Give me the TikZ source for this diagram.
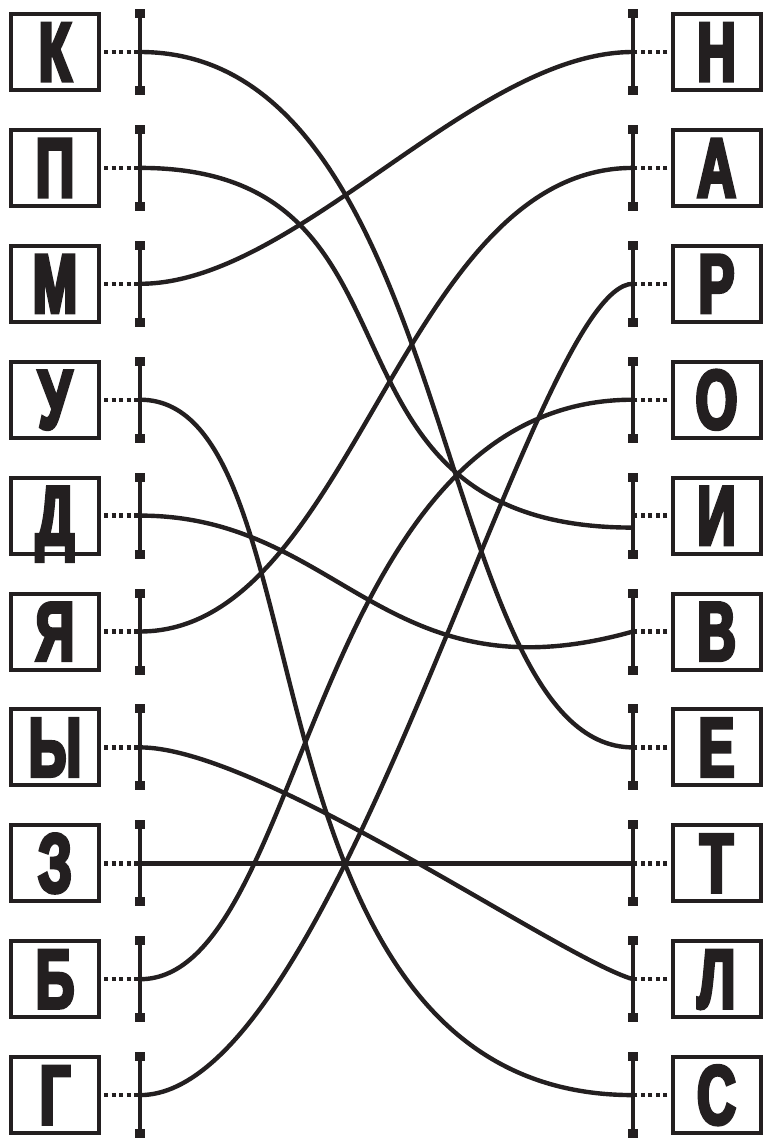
\documentclass[tikz,border=0pt]{standalone}
\usepackage{fontspec}
\newfontfamily\letterfont[FakeStretch=0.64,FakeBold=4]{Liberation Sans}
\usetikzlibrary{arrows.meta,calc}
\definecolor{ink}{RGB}{35,31,32}
\begin{document}
\begin{tikzpicture}[x=1pt,y=-1pt,
  letterbox/.style={draw=ink, line width=4pt, minimum width=88pt, minimum height=76pt,
    inner sep=0pt, text=ink, text height=58pt, text depth=0pt,
    font=\letterfont\bfseries\fontsize{84}{84}\selectfont},
  dotline/.style={draw=ink, line width=4.4pt, dash pattern=on 4.2pt off 3.3pt, dash phase=4.3pt},
  barline/.style={draw=ink, line width=3.8pt,
    arrows={Square[length=9pt,width=10pt]-Square[length=9pt,width=10pt]}},
  wire/.style={draw=ink, line width=4.4pt}]
\useasboundingbox (0,0) rectangle (763,1138);
\foreach \i/\a/\b in {0/К/Н,1/П/А,2/М/Р,3/У/О,4/Д/И,5/Я/В,6/Ы/Е,7/З/Т,8/Б/Л,9/Г/С}{
  \pgfmathsetmacro{\yy}{52+115.9*\i}
  \node[letterbox] (L\i) at (55,\yy) {\a};
  \node[letterbox] (R\i) at (716.5,\yy) {\b};
  \coordinate (la\i) at (140,\yy);
  \coordinate (ra\i) at (633,\yy);
  \draw[dotline] (L\i.east) -- (la\i);
  \draw[dotline] (R\i.west) -- (ra\i);
  \draw[barline] ([yshift=43pt]la\i) -- ([yshift=-43pt]la\i);
  \draw[barline] ([yshift=43pt]ra\i) -- ([yshift=-43pt]ra\i);
}
% connectors
\draw[wire] (la0) .. controls +(320,0) and +(-201,0) .. (ra6);
\draw[wire] (la1) .. controls +(309,0) and +(-343,0) .. ([yshift=-12pt]ra4);
\draw[wire] (la2) .. controls +(156,0) and +(-160,0) .. (ra0);
\draw[wire] (la3) .. controls +(193,0) and +(-406,0) .. (ra9);
\draw[wire] (la4) .. controls +(200,0) and +(-248,70) .. (ra5);
\draw[wire] (la5) .. controls +(213,0) and +(-233,0) .. (ra1);
\draw[wire] (la6) .. controls +(120,0) and +(-73,-21) .. (ra8);
\draw[wire] (la7) -- (ra7);
\draw[wire] (la8) .. controls +(167,0) and +(-325,0) .. (ra3);
\draw[wire] (la9) .. controls +(200,0) and +(-100,0) .. (ra2);
\end{tikzpicture}
\end{document}
